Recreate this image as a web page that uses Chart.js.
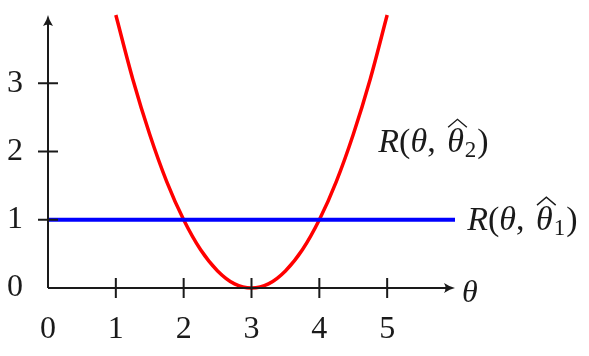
<!DOCTYPE html>
<html>
<head>
<meta charset="utf-8">
<script src="https://cdn.jsdelivr.net/npm/chart.js@4/dist/chart.umd.min.js"></script>
<style>
  body { margin: 0; background: #fff; }
  #wrap { width: 589px; height: 356px; }
</style>
</head>
<body>
<div id="wrap"><canvas id="riskChart" width="589" height="356"></canvas></div>
<script>
// ===== Données =====
const xTicks = [0, 1, 2, 3, 4, 5];
const yTicks = [0, 1, 2, 3];
const xMax = 6;
const yMax = 4;

// R(theta, theta_hat_2) : parabole rouge
const redX = [1, 1.25, 1.5, 1.75, 2, 2.25, 2.5, 2.75, 3, 3.25, 3.5, 3.75, 4, 4.25, 4.5, 4.75, 5];
const redY = [4, 3.06, 2.25, 1.56, 1, 0.56, 0.25, 0.06, 0, 0.06, 0.25, 0.56, 1, 1.56, 2.25, 3.06, 4];

// R(theta, theta_hat_1) : droite bleue constante
const blueX = [0, 6];
const blueY = [1, 1];

const serif = "'Liberation Serif', 'DejaVu Serif', serif";
const ink = "#1a1a1a";

// ===== Plugin : axes avec flèches, graduations et étiquettes =====
function arrowHead(ctx, x, y, dir) {
    // dir: 'right' ou 'up'
    ctx.save();
    ctx.translate(x, y);
    if (dir === "up") ctx.rotate(-Math.PI / 2);
    ctx.beginPath();
    ctx.moveTo(0, 0);
    ctx.quadraticCurveTo(-5, -1, -11, -5);
    ctx.quadraticCurveTo(-8, 0, -11, 5);
    ctx.quadraticCurveTo(-5, 1, 0, 0);
    ctx.closePath();
    ctx.fill();
    ctx.restore();
}

function drawRiskLabel(ctx, x, y, sub) {
    // R(θ, θ̂_sub) avec un chapeau dessiné à la main
    ctx.textBaseline = "middle";
    ctx.textAlign = "left";
    let cx = x;
    const parts = [
        { t: "R", f: "italic 34px " + serif },
        { t: "(", f: "34px " + serif },
        { t: "θ", f: "italic 34px " + serif },
        { t: ", ", f: "34px " + serif }
    ];
    parts.forEach(p => {
        ctx.font = p.f;
        ctx.fillText(p.t, cx, y);
        cx += ctx.measureText(p.t).width;
    });
    cx += 3;
    ctx.font = "italic 34px " + serif;
    const w = ctx.measureText("θ").width;
    ctx.fillText("θ", cx, y);
    // chapeau
    ctx.beginPath();
    ctx.lineWidth = 1.4;
    ctx.moveTo(cx + 1, y - 16);
    ctx.lineTo(cx + w / 2 + 2, y - 24);
    ctx.lineTo(cx + w + 3, y - 16);
    ctx.stroke();
    cx += w + 1;
    ctx.font = "23px " + serif;
    ctx.fillText(sub, cx, y + 8);
    cx += ctx.measureText(sub).width + 1;
    ctx.font = "34px " + serif;
    ctx.fillText(")", cx, y);
}

const axesPlugin = {
    id: "axesPlugin",
    afterDraw(chart) {
        const ctx = chart.ctx;
        const xs = chart.scales.x;
        const ys = chart.scales.y;
        const x0 = xs.getPixelForValue(0);
        const y0 = ys.getPixelForValue(0);
        const xEnd = xs.getPixelForValue(xMax);
        const yEnd = ys.getPixelForValue(yMax);

        ctx.save();
        ctx.strokeStyle = ink;
        ctx.fillStyle = ink;
        ctx.lineWidth = 2;

        // axes
        ctx.beginPath();
        ctx.moveTo(x0, y0);
        ctx.lineTo(xEnd - 4, y0);
        ctx.moveTo(x0, y0);
        ctx.lineTo(x0, yEnd + 4);
        ctx.stroke();
        arrowHead(ctx, xEnd, y0, "right");
        arrowHead(ctx, x0, yEnd, "up");

        // graduations
        ctx.beginPath();
        xTicks.filter(v => v !== 0).forEach(v => {
            const px = xs.getPixelForValue(v);
            ctx.moveTo(px, y0 - 10);
            ctx.lineTo(px, y0 + 10);
        });
        yTicks.filter(v => v !== 0).forEach(v => {
            const py = ys.getPixelForValue(v);
            ctx.moveTo(x0 - 10, py);
            ctx.lineTo(x0 + 10, py);
        });
        ctx.stroke();

        // étiquette θ de l'axe
        ctx.font = "italic 32px " + serif;
        ctx.textAlign = "left";
        ctx.textBaseline = "middle";
        ctx.fillText("θ", xEnd + 7, y0 + 6);

        // étiquettes des courbes
        drawRiskLabel(ctx, xs.getPixelForValue(4.87), ys.getPixelForValue(2.12), "2");
        drawRiskLabel(ctx, xs.getPixelForValue(6.18), ys.getPixelForValue(0.98), "1");
        ctx.restore();
    }
};

// ===== Graphique =====
const ctx = document.getElementById("riskChart").getContext("2d");
new Chart(ctx, {
    type: "scatter",
    data: {
        datasets: [
            {
                label: "R(θ, θ̂1)",
                data: blueX.map((x, i) => ({ x: x, y: blueY[i] })),
                showLine: true,
                borderColor: "#0000ff",
                borderWidth: 4,
                pointRadius: 0
            },
            {
                label: "R(θ, θ̂2)",
                data: redX.map((x, i) => ({ x: x, y: redY[i] })),
                showLine: true,
                borderColor: "#ff0000",
                borderWidth: 3.5,
                pointRadius: 0,
                cubicInterpolationMode: "monotone"
            }
        ]
    },
    options: {
        responsive: false,
        animation: false,
        clip: false,
        layout: { padding: { top: 15, right: 134, left: 0, bottom: 0 } },
        plugins: { legend: { display: false }, tooltip: { enabled: false } },
        scales: {
            x: {
                type: "linear",
                min: 0,
                max: xMax,
                border: { display: false },
                grid: { display: false },
                afterBuildTicks: axis => { axis.ticks = xTicks.map(v => ({ value: v })); },
                afterFit: axis => {
                    axis.height = 68;
                    axis.paddingLeft = 0;
                    axis.paddingRight = 0;
                },
                ticks: {
                    color: ink,
                    padding: 14,
                    maxRotation: 0,
                    font: { family: serif, size: 32 }
                }
            },
            y: {
                type: "linear",
                min: 0,
                max: yMax,
                border: { display: false },
                grid: { display: false },
                afterBuildTicks: axis => { axis.ticks = yTicks.map(v => ({ value: v })); },
                afterFit: axis => {
                    axis.width = 48;
                    axis.paddingTop = 0;
                    axis.paddingBottom = 0;
                },
                ticks: {
                    color: ink,
                    padding: 17,
                    font: { family: serif, size: 32 }
                }
            }
        }
    },
    plugins: [axesPlugin]
});
</script>
</body>
</html>
